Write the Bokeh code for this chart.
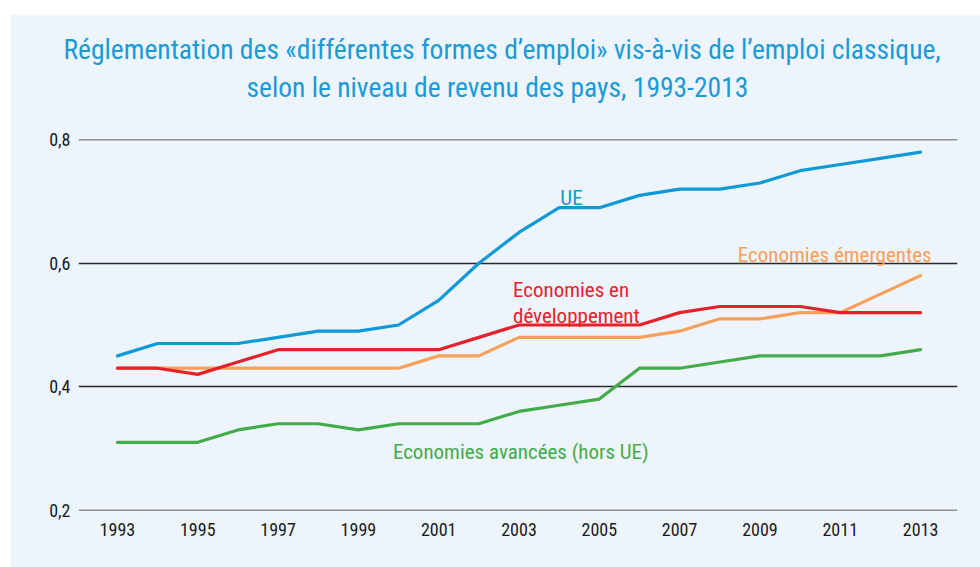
from bokeh.plotting import figure
from bokeh.models import Label, FixedTicker, Range1d, Title
from bokeh.embed import file_html
from bokeh.resources import INLINE

years = list(range(1993, 2014))
ue = [0.45, 0.47, 0.47, 0.47, 0.48, 0.49, 0.49, 0.50, 0.54, 0.60, 0.65,
      0.69, 0.69, 0.71, 0.72, 0.72, 0.73, 0.75, 0.76, 0.77, 0.78]
developpement = [0.43, 0.43, 0.42, 0.44, 0.46, 0.46, 0.46, 0.46, 0.46, 0.48, 0.50,
                 0.50, 0.50, 0.50, 0.52, 0.53, 0.53, 0.53, 0.52, 0.52, 0.52]
emergentes = [0.43, 0.43, 0.43, 0.43, 0.43, 0.43, 0.43, 0.43, 0.45, 0.45, 0.48,
              0.48, 0.48, 0.48, 0.49, 0.51, 0.51, 0.52, 0.52, 0.55, 0.58]
avancees = [0.31, 0.31, 0.31, 0.33, 0.34, 0.34, 0.33, 0.34, 0.34, 0.34, 0.36,
            0.37, 0.38, 0.43, 0.43, 0.44, 0.45, 0.45, 0.45, 0.45, 0.46]

x_ticks = [1993, 1995, 1997, 1999, 2001, 2003, 2005, 2007, 2009, 2011, 2013]
y_ticks = [0.2, 0.4, 0.6, 0.8]
y_tick_labels = ["0,2", "0,4", "0,6", "0,8"]

title_1 = "Réglementation des «différentes formes d’emploi» vis-à-vis de l’emploi classique,"
title_2 = "selon le niveau de revenu des pays, 1993-2013"

BG = "#eef4fb"
FONT = "'Roboto Condensed', 'DejaVu Sans Condensed', sans-serif"
C_UE = "#0e9ad6"
C_DEV = "#e8202a"
C_EMG = "#f7a05a"
C_AVA = "#43ac4a"
C_TITLE = "#1a9ad8"

p = figure(width=970, height=553, margin=(14, 0, 0, 10),
           output_backend="svg", toolbar_location=None,
           x_range=Range1d(1992.03, 2013.92), y_range=Range1d(0.1995, 0.8005),
           min_border_left=68, min_border_right=23,
           min_border_top=125, min_border_bottom=57)
p.background_fill_color = BG
p.border_fill_color = BG
p.outline_line_color = None

p.xgrid.grid_line_color = None
p.ygrid.grid_line_color = "#2a2a2a"
p.ygrid.grid_line_width = 1.3
p.ygrid.ticker = FixedTicker(ticks=y_ticks)

p.xaxis.ticker = FixedTicker(ticks=x_ticks)
p.yaxis.ticker = FixedTicker(ticks=y_ticks)
p.yaxis.major_label_overrides = dict(zip(y_ticks, y_tick_labels))
for ax in (p.xaxis, p.yaxis):
    ax.axis_line_color = None
    ax.major_tick_line_color = None
    ax.minor_tick_line_color = None
    ax.major_tick_in = 0
    ax.major_tick_out = 0
    ax.minor_tick_in = 0
    ax.minor_tick_out = 0
    ax.major_label_text_font = FONT
    ax.major_label_text_font_size = "18px"
    ax.major_label_text_color = "#1a1a1a"
p.xaxis.major_label_standoff = 12
p.yaxis.major_label_standoff = 8

for series, color in ((emergentes, C_EMG), (avancees, C_AVA),
                      (developpement, C_DEV), (ue, C_UE)):
    p.line(years, series, line_color=color, line_width=3.2, line_join="round", line_cap="round")

def lab(x, y, text, color, size="21px", align="left"):
    p.add_layout(Label(x=x, y=y, text=text, text_color=color, text_font=FONT,
                       text_font_size=size, text_align=align, text_baseline="alphabetic"))

lab(2004.03, 0.7062, "UE", C_UE)
lab(2008.45, 0.614, "Economies émergentes", C_EMG)
lab(2002.85, 0.5574, "Economies en", C_DEV)
lab(2002.85, 0.5153, "développement", C_DEV)
lab(1999.86, 0.2943, "Economies avancées (hors UE)", C_AVA)

# spacer between the frame and the two title lines
p.add_layout(Title(text="\u00a0", text_font_size="1px", standoff=33), "above")
for t, so, off in ((title_2, 0, 168), (title_1, 6, -15)):
    p.add_layout(Title(text=t, align="left", text_color=C_TITLE, text_font=FONT,
                       text_font_size="27.5px", text_font_style="normal",
                       standoff=so, offset=off), "above")

open("out.html", "w").write(file_html(p, INLINE))
